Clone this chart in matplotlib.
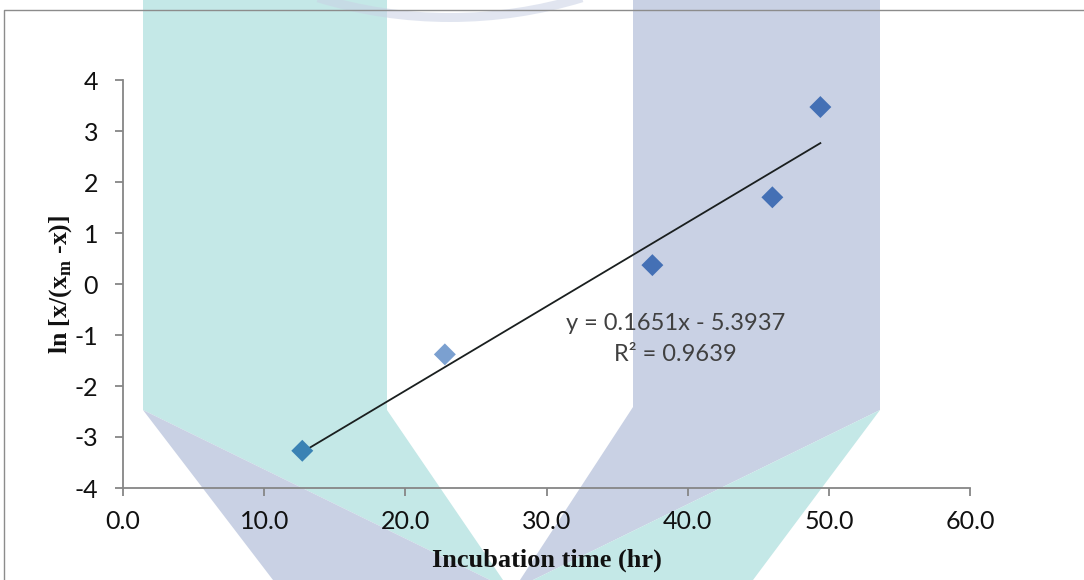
#!/usr/bin/env python3

import numpy as np
import matplotlib
matplotlib.use("Agg")
import matplotlib.pyplot as plt
from matplotlib.patches import Polygon, Wedge
from matplotlib.lines import Line2D
from matplotlib.transforms import Affine2D
from matplotlib.ticker import FormatStrFormatter

# data
time_hr = [12.7, 22.8, 37.5, 46.0, 49.4]
ln_ratio = [-3.27, -1.38, 0.37, 1.70, 3.47]
fit_slope = 0.1651
fit_intercept = -5.3937
fit_r2 = 0.9639

x_ticks = [0, 10, 20, 30, 40, 50, 60]
y_ticks = [-4, -3, -2, -1, 0, 1, 2, 3, 4]

# markers look tinted by the watermark lying over them
marker_colors = ["#3A82B4", "#7BA0D0", "#4470B5", "#4470B5", "#4470B5"]

W, H = 1084, 580
TEAL = "#C4E8E7"
LILAC = "#C9D1E4"
GREY = "#868686"

plt.rcParams["axes.unicode_minus"] = False
plt.rcParams["mathtext.fontset"] = "custom"
plt.rcParams["mathtext.rm"] = "Liberation Serif"
plt.rcParams["mathtext.bf"] = "Liberation Serif:bold"

fig = plt.figure(figsize=(W / 100, H / 100), dpi=100)
fig.patch.set_facecolor("white")

# pixel coordinates (y pointing down) for the background decoration
pix = Affine2D().scale(1 / W, -1 / H).translate(0, 1) + fig.transFigure

watermark = [
    (TEAL, [(143, 0), (387, 0), (387, 410), (503, 580), (490, 580), (143, 410)]),
    (LILAC, [(143, 410), (490, 580), (273, 580)]),
    (LILAC, [(633, 0), (880, 0), (880, 410), (533, 580), (520, 580), (633, 407)]),
    (TEAL, [(880, 410), (753, 580), (533, 580)]),
]
for color, pts in watermark:
    fig.patches.append(Polygon(pts, closed=True, facecolor=color, edgecolor="none",
                               transform=pix, zorder=-5))
fig.patches.append(Wedge((450, -434), 456, 73, 107, width=9, facecolor=LILAC,
                         edgecolor="none", alpha=0.55, transform=pix, zorder=-5))

# outer chart frame
fig.lines.append(Line2D([3.5, 3.5, W], [H, 10, 10], color="#8C8C8C", lw=1.0,
                        transform=pix, zorder=5))

ax = fig.add_axes([123 / W, 1 - 488 / H, (970 - 123) / W, (488 - 80) / H])
ax.set_facecolor("none")

ax.scatter(time_hr, ln_ratio, marker="D", s=125, c=marker_colors, linewidths=0, zorder=3)

xs = np.array([min(time_hr), max(time_hr)])
ax.plot(xs, fit_slope * xs + fit_intercept, color="#1A1F1F", lw=1.3, zorder=2)

ax.text(39.15, -1.08, f"y = {fit_slope}x - {abs(fit_intercept)}\nR² = {fit_r2}",
        ha="center", va="center", multialignment="center", fontsize=17,
        family="Lato", color="#404040", linespacing=1.6)

ax.set_xlim(0, 60)
ax.set_ylim(-4, 4)
ax.set_xticks(x_ticks)
ax.set_yticks(y_ticks)
ax.xaxis.set_major_formatter(FormatStrFormatter("%.1f"))

for side in ("top", "right"):
    ax.spines[side].set_visible(False)
for side in ("left", "bottom"):
    ax.spines[side].set_color(GREY)
    ax.spines[side].set_linewidth(1.3)

ax.tick_params(axis="both", direction="out", length=6, width=1.3, color=GREY,
               labelsize=18, labelcolor="#111111")
ax.tick_params(axis="x", pad=10)
ax.tick_params(axis="y", pad=12)
for lab in ax.get_xticklabels() + ax.get_yticklabels():
    lab.set_family("Lato")

ax.set_xlabel("Incubation time (hr)", fontsize=19, family="Liberation Serif",
              weight="bold", color="#111111", labelpad=11)
ax.set_ylabel(r"ln [x/(x$_\mathbf{m}$ -x)]", fontsize=18.5, family="Liberation Serif",
              weight="bold", color="#111111", labelpad=0)

fig.savefig("out.png", dpi=100)
